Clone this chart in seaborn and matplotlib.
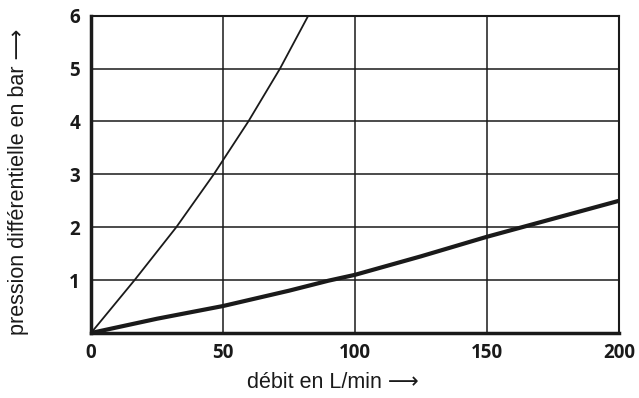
import matplotlib
matplotlib.use("Agg")
import matplotlib.pyplot as plt
import seaborn as sns
import pandas as pd

# Pressure drop curves (flow in L/min, differential pressure in bar)
flow_thin = [0, 16.5, 32.3, 46.5, 59.6, 71.6, 82.3]
dp_thin = [0, 1.0, 2.0, 3.0, 4.0, 5.0, 6.0]

flow_thick = [0, 25, 50, 75, 90, 100, 125, 150, 175, 200]
dp_thick = [0, 0.27, 0.51, 0.80, 0.99, 1.10, 1.45, 1.82, 2.16, 2.50]

x_ticks = [0, 50, 100, 150, 200]
y_ticks = [1, 2, 3, 4, 5, 6]

sns.set_theme(style="white")
plt.rcParams["font.family"] = ["Open Sans", "DejaVu Sans"]

ink = "#1a1a1a"
label_font = ["Liberation Sans", "DejaVu Sans"]

fig = plt.figure(figsize=(6.39, 3.98), dpi=100)
ax = fig.add_axes([0.1424, 0.1633, 0.8263, 0.7973])

thin = pd.DataFrame({"x": flow_thin, "y": dp_thin})
thick = pd.DataFrame({"x": flow_thick, "y": dp_thick})

sns.lineplot(data=thin, x="x", y="y", ax=ax, color=ink, linewidth=1.3,
             sort=False, zorder=3)
sns.lineplot(data=thick, x="x", y="y", ax=ax, color=ink, linewidth=3.0,
             sort=False, zorder=3, solid_capstyle="butt")

ax.set_xlim(0, 200)
ax.set_ylim(0, 6)
ax.set_xticks(x_ticks)
ax.set_yticks(y_ticks)
ax.set_xticklabels([str(v) for v in x_ticks], fontweight="bold", fontsize=13.5)
ax.set_yticklabels([str(v) for v in y_ticks], fontweight="bold", fontsize=13.5)
ax.tick_params(axis="x", length=0, pad=7, colors=ink)
ax.tick_params(axis="y", length=0, pad=8, colors=ink)

ax.grid(True, color=ink, linewidth=1.1)
ax.set_axisbelow(True)

for side in ["top", "right"]:
    ax.spines[side].set_linewidth(1.5)
    ax.spines[side].set_color(ink)
for side in ["left", "bottom"]:
    ax.spines[side].set_linewidth(2.5)
    ax.spines[side].set_color(ink)

ax.set_xlabel("débit en L/min \u27f6", fontsize=15.5, color=ink, family=label_font)
ax.set_ylabel("pression différentielle en bar \u27f6", fontsize=15.5, color=ink,
              family=label_font)
ax.xaxis.set_label_coords(0.458, -0.122)
ax.yaxis.set_label_coords(-0.117, 0.476)

fig.savefig("out.png", dpi=100, facecolor="white")
